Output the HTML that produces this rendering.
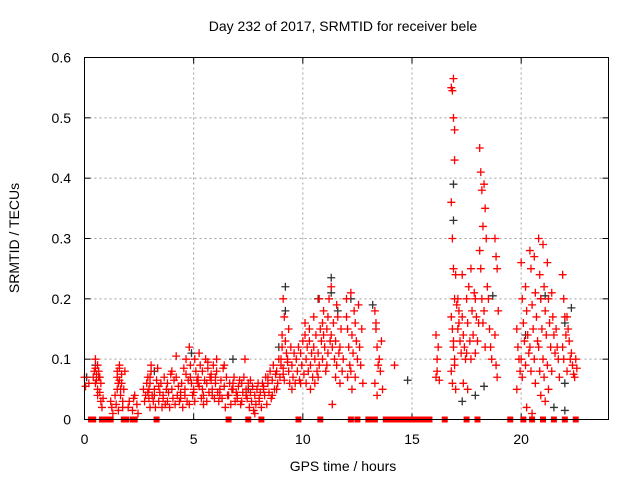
<!DOCTYPE html>
<html><head><meta charset="utf-8"><style>
body{margin:0;background:#fff}
svg text{font-family:"Liberation Sans",sans-serif;font-size:14px;fill:#000}
</style></head><body>
<svg id="chart" width="640" height="480" viewBox="0 0 640 480">
<rect width="640" height="480" fill="#fff"/>
<text x="343" y="31" text-anchor="middle">Day 232 of 2017, SRMTID for receiver bele</text>
<text x="343" y="471" text-anchor="middle">GPS time / hours</text>
<text transform="translate(19,238) rotate(-90)" text-anchor="middle">SRMTID / TECUs</text>
<g id="grid"></g>
<g id="axes"></g>
<g id="black"></g>
<g id="red"></g>
<g id="zeros"></g>
<rect x="84.5" y="57.5" width="524" height="362" fill="none" stroke="#000"/>
</svg>
<script>
const xTicks=[0,5,10,15,20];
const yTicks=[0,0.1,0.2,0.3,0.4,0.5,0.6];
const yTickLabels=["0","0.1","0.2","0.3","0.4","0.5","0.6"];
const redTimes=[0.0,0.2,0.4,0.5,0.6,0.7,0.8,1.2,1.4,1.5,1.6,1.7,2.0,2.2,2.4,2.7,2.9,3.0,3.2,3.4,3.6,3.8,4.0,4.2,4.4,4.6,4.8,5.0,5.2,5.4,5.6,5.8,6.0,6.2,6.4,6.6,6.8,7.0,7.2,7.4,7.6,7.8,8.0,8.2,8.4,8.6,8.8,9.0,9.1,9.3,9.5,9.7,9.9,10.1,10.3,10.5,10.7,10.9,11.1,11.3,11.5,11.7,12.0,12.2,12.4,12.6,13.3,13.5,14.2,16.1,16.8,16.9,17.1,17.3,17.5,17.7,17.9,18.1,18.3,18.5,18.8,19.8,20.0,20.2,20.4,20.6,20.8,21.0,21.2,21.4,21.6,21.9,22.1,22.3,22.5];
const redValues=[[.07,.055],[.06],[.07,.08,.06,.075],[.1,.065,.09,.07,.085],[.05,.08,.07,.06,.04],[.045,.03],[.02,.035],[.03,.02,.01],[.04,.025,.05,.015],[.08,.06,.09,.05,.07],[.085,.04,.075,.03,.065],[.06,.02,.05,.08],[.02,.03],[.015,.035,.04],[.025,.01],[.05,.03,.04,.06],[.07,.05,.02,.08,.045,.035],[.06,.09,.04,.03,.07],[.05,.02,.065,.085,.04],[.03,.045,.06,.02,.055],[.04,.07,.025,.05,.035],[.06,.045,.02,.075,.03],[.05,.035,.065,.025,.08],[.07,.04,.055,.03,.105],[.045,.06,.02,.085,.035],[.05,.075,.03,.065,.04,.1],[.12,.09,.06,.04,.025,.07],[.05,.03,.08,.065,.045,.1],[.07,.055,.09,.035,.06,.11],[.08,.04,.065,.1,.05,.025],[.06,.085,.045,.07,.03,.095],[.075,.05,.09,.035,.065,.04],[.06,.08,.045,.03,.07,.1],[.05,.065,.035,.085,.04],[.055,.02,.07,.04,.09],[.04,.06,.025,.05],[.05,.07,.03,.045,.06],[.035,.055,.065,.025,.04],[.06,.045,.07,.1,.03],[.05,.035,.06,.02,.04],[.045,.03,.055,.015,.065],[.04,.025,.05,.06,.01],[.03,.045,.02,.06,.035],[.05,.04,.07,.025,.055],[.06,.045,.08,.035,.07],[.065,.09,.05,.075,.04],[.08,.06,.1,.07,.05],[.09,.12,.075,.065,.1,.14],[.2,.17,.13,.11,.085],[.1,.08,.06,.12,.095,.15],[.09,.07,.11,.06,.05],[.1,.08,.12,.065],[.11,.09,.13,.075,.06],[.14,.1,.12,.08,.16,.06],[.13,.09,.11,.07,.15,.05],[.12,.1,.14,.08,.17,.06],[.11,.09,.15,.13,.07,.2],[.1,.14,.12,.08,.16,.18],[.15,.11,.2,.13,.09,.17],[.22,.12,.16,.1,.14,.025],[.13,.09,.17,.11,.07,.19],[.12,.15,.08,.1,.06],[.2,.15,.12,.09,.17,.07],[.21,.14,.11,.18,.08,.05],[.16,.13,.1,.19,.07],[.12,.09,.15,.06],[.18,.15,.12,.09,.06,.16,.04],[.1,.08,.13,.05],[.09],[.07,.1,.12,.065,.14,.08],[.55,.545,.5,.43,.36,.3,.25,.2,.17,.15,.12,.1,.08,.06],[.565,.48,.24,.19,.13,.09,.05],[.2,.16,.13,.11,.15,.18],[.17,.14,.12,.1,.24,.06],[.2,.16,.22,.13,.11,.05],[.25,.18,.14,.21,.1],[.2,.17,.13,.16,.11],[.45,.41,.38,.32,.28,.25,.2,.16],[.39,.35,.3,.22,.18,.12],[.2,.15,.12,.1],[.3,.27,.25,.18,.14,.09,.07],[.15,.12,.1,.08,.05],[.26,.2,.16,.13,.1,.07],[.22,.18,.14,.11,.09,.02],[.28,.25,.19,.15,.12,.08,.01],[.27,.21,.17,.13,.1,.06],[.3,.24,.2,.15,.12,.08,.04],[.29,.22,.18,.14,.1,.07,.03],[.26,.2,.16,.12,.09,.05],[.21,.17,.14,.11,.08],[.15,.12,.1,.07],[.24,.2,.17,.14,.12,.1],[.17,.15,.13,.1,.08],[.11,.09,.075,.07],[.1,.085]];
const blackTimes=[0.1,0.5,3.2,4.9,6.8,7.5,8.9,9.2,10.7,11.3,11.6,12.2,13.2,14.8,16.9,17.3,17.9,18.3,18.7,20.2,20.9,21.1,21.5,22.0,22.3];
const blackValues=[[.07],[.09],[.08],[.11],[.1],[.05],[.12],[.22,.18],[.2],[.235,.21],[.18],[.2],[.19],[.065],[.39,.33],[.03],[.04],[.055],[.205],[.14],[.2],[.205],[.02],[.16,.06,.015],[.185]];
const zeroTimes=[0.3,0.4,0.8,0.9,1.0,1.1,1.2,1.8,1.9,2.2,2.3,3.3,6.6,7.5,8.1,9.8,10.8,12.2,12.5,13.0,13.1,13.3,13.8,14.0,14.2,14.4,14.6,14.8,15.0,15.2,15.4,15.6,15.8,16.5,17.5,18.0,19.5,20.1,20.5,21.0,21.5,22.0,22.5];

const NS="http://www.w3.org/2000/svg";
const X0=84.5,X1=608.5,Y0=419.5,Y1=57.5,XMAX=24,YMAX=0.6;
const xs=t=>X0+(t/XMAX)*(X1-X0);
const ys=v=>Y0-(v/YMAX)*(Y0-Y1);
function mk(tag,attrs,parent){const e=document.createElementNS(NS,tag);for(const k in attrs)e.setAttribute(k,attrs[k]);parent.appendChild(e);return e;}
const grid=document.getElementById('grid'),axes=document.getElementById('axes');
xTicks.forEach(t=>{
  const x=xs(t);
  if(t>0){const g=mk('line',{x1:x,x2:x,y1:Y1,y2:Y0,stroke:'#a0a0a0','stroke-dasharray':'2,3'},grid);
  
  }
  mk('line',{x1:x,x2:x,y1:Y0,y2:Y0-6,stroke:'#000'},axes);
  mk('line',{x1:x,x2:x,y1:Y1,y2:Y1+6,stroke:'#000'},axes);
  const l=mk('text',{x:x,y:444,'text-anchor':'middle'},axes);l.textContent=t;
  
  
});
yTicks.forEach((v,i)=>{
  const y=ys(v);
  if(v>0&&v<YMAX){const g=mk('line',{x1:X0,x2:X1,y1:y,y2:y,stroke:'#a0a0a0','stroke-dasharray':'2,3'},grid);
  
  }
  mk('line',{x1:X0,x2:X0+6,y1:y,y2:y,stroke:'#000'},axes);
  mk('line',{x1:X1,x2:X1-6,y1:y,y2:y,stroke:'#000'},axes);
  const l=mk('text',{x:71,y:y+5,'text-anchor':'end'},axes);l.textContent=yTickLabels[i];
  
  
});
function plus(g,t,v,col){
  const x=xs(t),y=ys(v);
  const p=mk('path',{d:`M${x-4} ${y}H${x+4}M${x} ${y-4}V${y+4}`,stroke:col,'stroke-width':1.3,fill:'none'},g);
  
  
}
const bg=document.getElementById('black'),rg=document.getElementById('red'),zg=document.getElementById('zeros');
blackTimes.forEach((t,i)=>blackValues[i].forEach(v=>plus(bg,t,v,'#333')));
redTimes.forEach((t,i)=>redValues[i].forEach((v,j)=>{plus(rg,t+(j%4)*0.05,v,'#f00');}));
zeroTimes.forEach(t=>{
  const r=mk('rect',{x:xs(t)-3,y:Y0-3,width:6,height:6,fill:'#f00'},zg);
  
  
});
</script>
</body></html>
